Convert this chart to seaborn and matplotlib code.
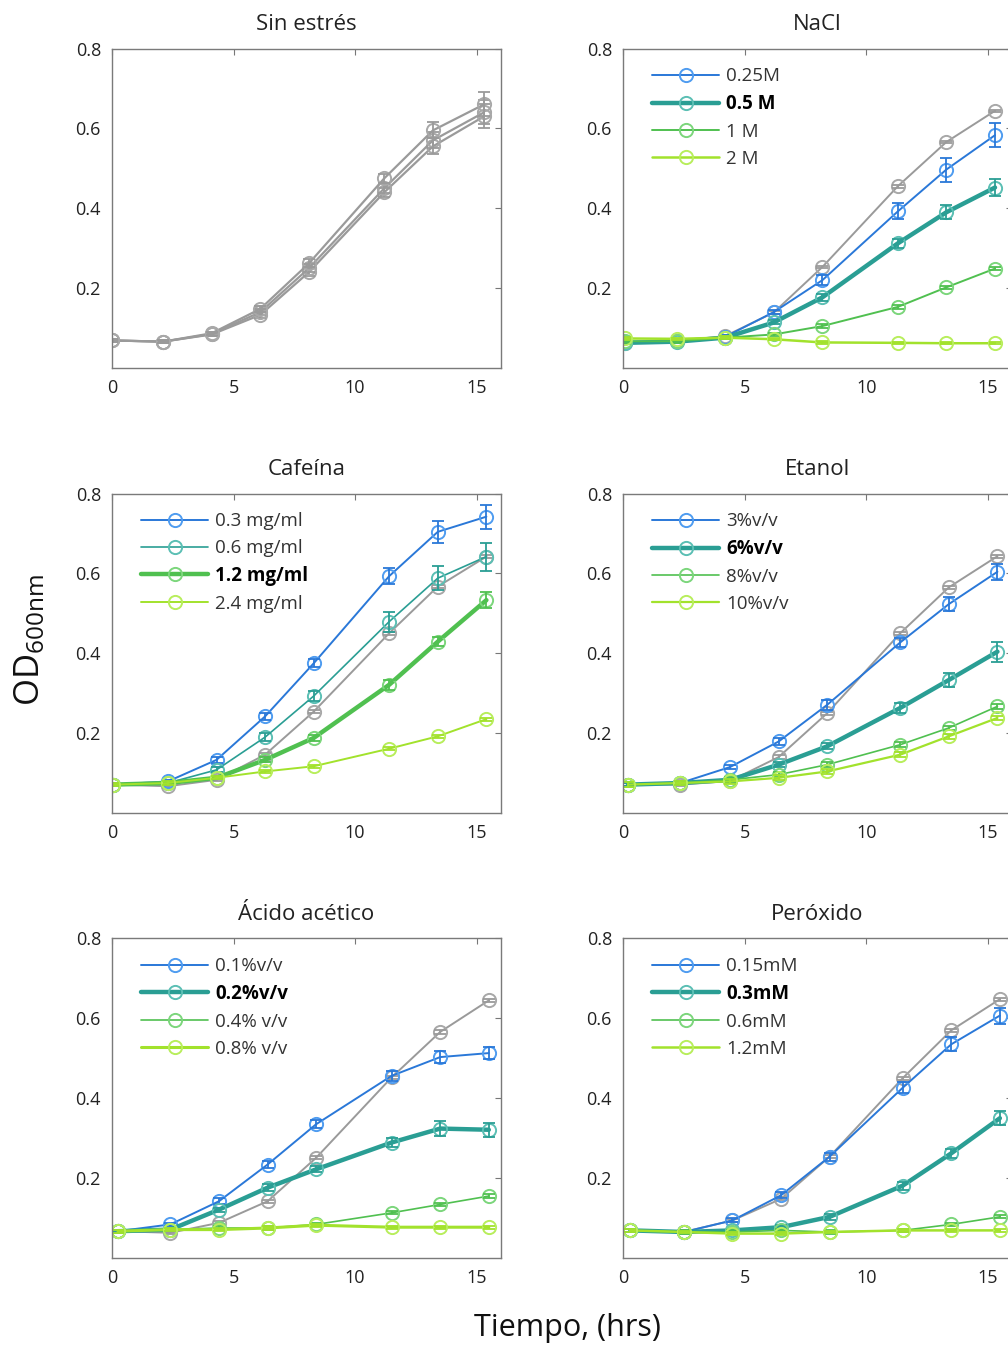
import seaborn as sns
from matplotlib import pyplot as plt

# time points (hrs) read per panel
t_sin = [0, 2.1, 4.1, 6.1, 8.1, 11.2, 13.2, 15.3]
t_nacl = [0.1, 2.2, 4.2, 6.2, 8.2, 11.3, 13.3, 15.3]
t_caf = [0.05, 2.3, 4.3, 6.3, 8.3, 11.4, 13.4, 15.4]
t_eta = [0.2, 2.35, 4.4, 6.4, 8.4, 11.4, 13.4, 15.4]
t_ace = [0.25, 2.4, 4.4, 6.4, 8.4, 11.5, 13.5, 15.5]
t_per = [0.3, 2.5, 4.5, 6.5, 8.5, 11.5, 13.5, 15.5]

# Sin estres (three control replicates)
sin_rep1 = [0.069, 0.066, 0.087, 0.148, 0.262, 0.475, 0.595, 0.660]
sin_rep2 = [0.069, 0.066, 0.085, 0.140, 0.250, 0.450, 0.570, 0.640]
sin_rep3 = [0.069, 0.066, 0.084, 0.133, 0.240, 0.440, 0.555, 0.630]
sin_err = [0.003, 0.003, 0.004, 0.008, 0.010, 0.012, 0.020, 0.030]

# NaCl
nacl_labels = ['0.25M', '0.5 M', '1 M', '2 M']
nacl_ctrl = [0.063, 0.067, 0.080, 0.139, 0.253, 0.455, 0.566, 0.644]
nacl_025 = [0.065, 0.068, 0.078, 0.140, 0.220, 0.392, 0.497, 0.583]
nacl_05 = [0.063, 0.066, 0.076, 0.114, 0.177, 0.312, 0.390, 0.452]
nacl_1 = [0.067, 0.067, 0.076, 0.084, 0.105, 0.153, 0.202, 0.249]
nacl_2 = [0.074, 0.073, 0.076, 0.072, 0.064, 0.063, 0.062, 0.062]
nacl_err_025 = [0.003, 0.003, 0.004, 0.006, 0.012, 0.020, 0.030, 0.030]
nacl_err_05 = [0.003, 0.003, 0.003, 0.005, 0.008, 0.012, 0.018, 0.022]

# Cafeina
caf_labels = ['0.3 mg/ml', '0.6 mg/ml', '1.2 mg/ml', '2.4 mg/ml']
caf_ctrl = [0.071, 0.067, 0.083, 0.146, 0.254, 0.450, 0.567, 0.642]
caf_03 = [0.071, 0.079, 0.133, 0.242, 0.375, 0.593, 0.704, 0.742]
caf_06 = [0.071, 0.075, 0.108, 0.190, 0.293, 0.479, 0.588, 0.642]
caf_12 = [0.071, 0.075, 0.088, 0.133, 0.188, 0.321, 0.429, 0.533]
caf_24 = [0.071, 0.075, 0.088, 0.104, 0.117, 0.161, 0.192, 0.235]
caf_err_03 = [0.003, 0.004, 0.008, 0.008, 0.010, 0.020, 0.028, 0.030]
caf_err_06 = [0.003, 0.004, 0.006, 0.010, 0.012, 0.025, 0.030, 0.035]
caf_err_12 = [0.003, 0.003, 0.004, 0.006, 0.008, 0.012, 0.012, 0.020]

# Etanol
eta_labels = ['3%v/v', '6%v/v', '8%v/v', '10%v/v']
eta_ctrl = [0.071, 0.071, 0.080, 0.140, 0.250, 0.450, 0.565, 0.643]
eta_3 = [0.071, 0.075, 0.115, 0.179, 0.271, 0.427, 0.523, 0.604]
eta_6 = [0.071, 0.075, 0.083, 0.121, 0.167, 0.263, 0.333, 0.404]
eta_8 = [0.071, 0.075, 0.083, 0.096, 0.121, 0.171, 0.213, 0.267]
eta_10 = [0.071, 0.075, 0.079, 0.088, 0.104, 0.146, 0.192, 0.238]
eta_err_3 = [0.003, 0.003, 0.006, 0.008, 0.012, 0.012, 0.018, 0.020]
eta_err_6 = [0.003, 0.003, 0.004, 0.006, 0.008, 0.012, 0.018, 0.025]

# Acido acetico
ace_labels = ['0.1%v/v', '0.2%v/v', '0.4% v/v', '0.8% v/v']
ace_ctrl = [0.067, 0.063, 0.088, 0.142, 0.251, 0.452, 0.566, 0.645]
ace_01 = [0.067, 0.084, 0.142, 0.234, 0.335, 0.456, 0.503, 0.513]
ace_02 = [0.067, 0.071, 0.121, 0.176, 0.222, 0.289, 0.324, 0.321]
ace_04 = [0.067, 0.071, 0.075, 0.075, 0.084, 0.113, 0.134, 0.155]
ace_08 = [0.067, 0.071, 0.071, 0.075, 0.082, 0.077, 0.077, 0.077]
ace_err_01 = [0.003, 0.004, 0.008, 0.008, 0.010, 0.012, 0.015, 0.015]
ace_err_02 = [0.003, 0.003, 0.005, 0.008, 0.008, 0.012, 0.018, 0.018]

# Peroxido
per_labels = ['0.15mM', '0.3mM', '0.6mM', '1.2mM']
per_ctrl = [0.069, 0.065, 0.094, 0.148, 0.254, 0.450, 0.570, 0.648]
per_015 = [0.069, 0.065, 0.094, 0.157, 0.254, 0.426, 0.535, 0.607]
per_03 = [0.069, 0.065, 0.069, 0.077, 0.103, 0.181, 0.262, 0.350]
per_06 = [0.069, 0.065, 0.065, 0.069, 0.065, 0.069, 0.084, 0.103]
per_12 = [0.069, 0.065, 0.061, 0.061, 0.065, 0.069, 0.069, 0.069]
per_err_015 = [0.003, 0.003, 0.005, 0.008, 0.010, 0.014, 0.018, 0.020]
per_err_03 = [0.003, 0.003, 0.003, 0.005, 0.008, 0.010, 0.012, 0.018]

sns.set_style('white')
plt.rcParams['font.family'] = ['Open Sans', 'DejaVu Sans']
plt.rcParams['mathtext.default'] = 'regular'

BLUE = ('#2a78d8', '#4f9cf0')
TEAL = ('#2a9e94', '#5bbfb4')
GREEN = ('#50c050', '#7cd67c')
LIME = ('#a2e22c', '#b8ee5c')
GRAY = ('#9a9a9a', '#a8a8a8')

fig = plt.figure(figsize=(10.08, 13.48), dpi=100)
W, H = 0.3859, 0.237
cols = [0.1111, 0.6181]
rows = [0.7270, 0.3969, 0.0668]


def series(ax, t, y, col, err=None, lw=1.4, label=None):
    line, mark = col
    sns.lineplot(x=t, y=y, ax=ax, color=line, linewidth=lw, marker='o', markersize=9.5,
                 markerfacecolor='none', markeredgecolor=mark, markeredgewidth=1.4,
                 label=label, legend=False)
    if err is not None:
        ax.errorbar(t, y, yerr=err, fmt='none', ecolor=line, elinewidth=1.3, capsize=4, capthick=1.3)


def setup(ax, title):
    ax.set_xlim(0, 16)
    ax.set_ylim(0, 0.8)
    ax.set_xticks([0, 5, 10, 15])
    ax.set_yticks([0.2, 0.4, 0.6, 0.8])
    ax.set_yticklabels(['0.2', '0.4', '0.6', '0.8'])
    ax.tick_params(direction='in', top=True, right=True, length=4, width=0.8, color='#777777',
                   labelsize=13, labelcolor='#222222', pad=8)
    for s in ax.spines.values():
        s.set_color('#7a7a7a')
        s.set_linewidth(1.0)
    ax.set_xlabel('')
    ax.set_ylabel('')
    ax.set_title(title, fontsize=16, color='#222222', pad=13)


def add_legend(ax, bold):
    leg = ax.legend(loc='upper left', bbox_to_anchor=(0.026, 1.0), frameon=False, fontsize=13.5,
                    handlelength=3.6, handletextpad=0.35, labelspacing=0.47, borderaxespad=0.6)
    for i, txt in enumerate(leg.get_texts()):
        if i == bold:
            txt.set_fontweight('bold')
            txt.set_color('black')
        else:
            txt.set_color('#333333')


# Sin estres
ax = fig.add_axes([cols[0], rows[0], W, H])
for rep in [sin_rep3, sin_rep2, sin_rep1]:
    series(ax, t_sin, rep, GRAY, err=sin_err, lw=1.6)
setup(ax, 'Sin estrés')

# NaCl
ax = fig.add_axes([cols[1], rows[0], W, H])
series(ax, t_nacl, nacl_ctrl, GRAY, err=[0.003] * 8)
series(ax, t_nacl, nacl_025, BLUE, err=nacl_err_025, label=nacl_labels[0])
series(ax, t_nacl, nacl_05, TEAL, err=nacl_err_05, lw=3.2, label=nacl_labels[1])
series(ax, t_nacl, nacl_1, GREEN, err=[0.004] * 8, label=nacl_labels[2])
series(ax, t_nacl, nacl_2, LIME, err=[0.003] * 8, lw=1.8, label=nacl_labels[3])
setup(ax, 'NaCl')
add_legend(ax, 1)

# Cafeina
ax = fig.add_axes([cols[0], rows[1], W, H])
series(ax, t_caf, caf_ctrl, GRAY, err=[0.004] * 8)
series(ax, t_caf, caf_03, BLUE, err=caf_err_03, label=caf_labels[0])
series(ax, t_caf, caf_06, TEAL, err=caf_err_06, lw=1.2, label=caf_labels[1])
series(ax, t_caf, caf_12, GREEN, err=caf_err_12, lw=3.2, label=caf_labels[2])
series(ax, t_caf, caf_24, LIME, err=[0.004] * 8, lw=1.4, label=caf_labels[3])
setup(ax, 'Cafeína')
add_legend(ax, 2)

# Etanol
ax = fig.add_axes([cols[1], rows[1], W, H])
series(ax, t_eta, eta_ctrl, GRAY, err=[0.004] * 8)
series(ax, t_eta, eta_3, BLUE, err=eta_err_3, label=eta_labels[0])
series(ax, t_eta, eta_6, TEAL, err=eta_err_6, lw=3.2, label=eta_labels[1])
series(ax, t_eta, eta_8, GREEN, err=[0.006] * 8, lw=1.2, label=eta_labels[2])
series(ax, t_eta, eta_10, LIME, err=[0.006] * 8, lw=1.6, label=eta_labels[3])
setup(ax, 'Etanol')
add_legend(ax, 1)

# Acido acetico
ax = fig.add_axes([cols[0], rows[2], W, H])
series(ax, t_ace, ace_ctrl, GRAY, err=[0.004] * 8)
series(ax, t_ace, ace_01, BLUE, err=ace_err_01, label=ace_labels[0])
series(ax, t_ace, ace_02, TEAL, err=ace_err_02, lw=3.2, label=ace_labels[1])
series(ax, t_ace, ace_04, GREEN, err=[0.004] * 8, lw=1.2, label=ace_labels[2])
series(ax, t_ace, ace_08, LIME, err=[0.004] * 8, lw=2.2, label=ace_labels[3])
setup(ax, 'Ácido acético')
add_legend(ax, 1)

# Peroxido
ax = fig.add_axes([cols[1], rows[2], W, H])
series(ax, t_per, per_ctrl, GRAY, err=[0.004] * 8)
series(ax, t_per, per_015, BLUE, err=per_err_015, label=per_labels[0])
series(ax, t_per, per_03, TEAL, err=per_err_03, lw=3.2, label=per_labels[1])
series(ax, t_per, per_06, GREEN, err=[0.004] * 8, lw=1.2, label=per_labels[2])
series(ax, t_per, per_12, LIME, err=[0.003] * 8, lw=1.8, label=per_labels[3])
setup(ax, 'Peróxido')
add_legend(ax, 1)

fig.text(0.030, 0.525, 'OD$_{600nm}$', rotation=90, fontsize=25, ha='center', va='center', color='#111111')
fig.text(0.563, 0.015, 'Tiempo, (hrs)', fontsize=22, ha='center', va='center', color='#111111')

fig.savefig('out.png', dpi=100)
